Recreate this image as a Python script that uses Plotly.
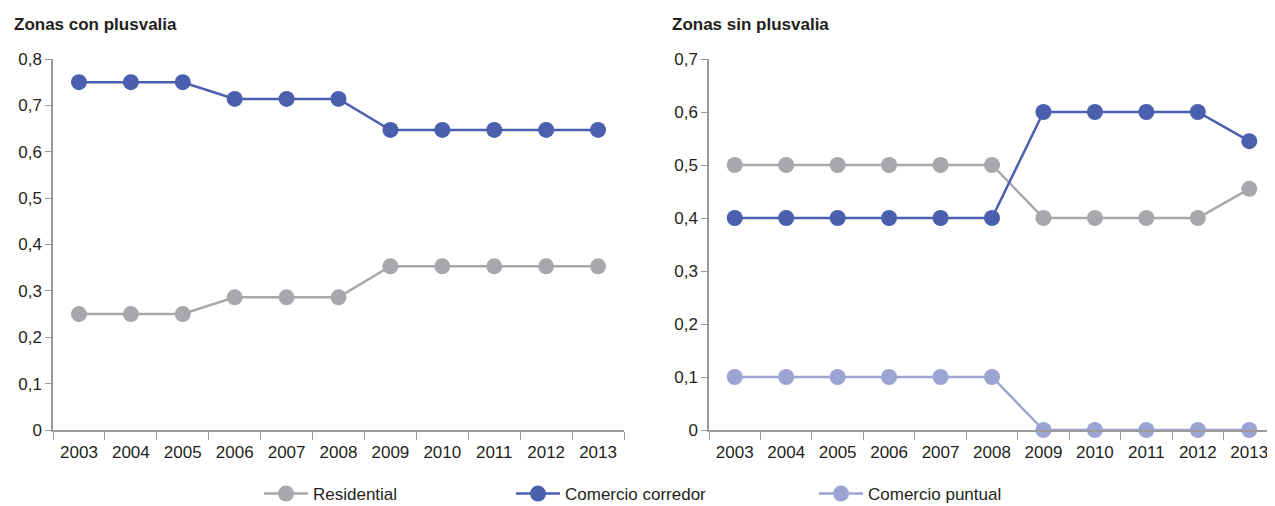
import plotly.graph_objects as go

years = ["2003", "2004", "2005", "2006", "2007", "2008", "2009", "2010", "2011", "2012", "2013"]

# Zonas con plusvalia
con_residential = [0.25, 0.25, 0.25, 0.286, 0.286, 0.286, 0.353, 0.353, 0.353, 0.353, 0.353]
con_corredor = [0.75, 0.75, 0.75, 0.714, 0.714, 0.714, 0.647, 0.647, 0.647, 0.647, 0.647]

# Zonas sin plusvalia
sin_residential = [0.5, 0.5, 0.5, 0.5, 0.5, 0.5, 0.4, 0.4, 0.4, 0.4, 0.455]
sin_corredor = [0.4, 0.4, 0.4, 0.4, 0.4, 0.4, 0.6, 0.6, 0.6, 0.6, 0.545]
sin_puntual = [0.1, 0.1, 0.1, 0.1, 0.1, 0.1, 0, 0, 0, 0, 0]

c_res = "#a7a8ab"
c_cor = "#4a5fae"
c_pun = "#9ca4d4"

FONT = "Liberation Sans, Arial, sans-serif"
TXT = "#231f20"

fig = go.Figure()

def add(x, y, name, color, xa, ya, show, legend):
    fig.add_trace(go.Scatter(
        x=x, y=y, name=name, mode="lines+markers",
        line=dict(color=color, width=2.5),
        marker=dict(color=color, size=16),
        xaxis=xa, yaxis=ya, showlegend=show, legend=legend,
        cliponaxis=False, hoverinfo="skip"))

add(years, con_residential, "Residential", c_res, "x", "y", False, "legend")
add(years, con_corredor, "Comercio corredor", c_cor, "x", "y", False, "legend")
add(years, sin_residential, "Residential", c_res, "x2", "y2", True, "legend")
add(years, sin_corredor, "Comercio corredor", c_cor, "x2", "y2", True, "legend2")
add(years, sin_puntual, "Comercio puntual", c_pun, "x2", "y2", True, "legend3")

# page body has an 8px margin: size figure to fill the rest of the window
OX, OY = 8, 8
W, H = 1275 - OX, 506 - OY
TOP_S, BOT_S = 59, 430          # screen y of plot top / x-axis
T = TOP_S - OY
B = H - (BOT_S - OY)
axis_common = dict(showline=True, linecolor="#9a9a9a", linewidth=1.5, ticks="outside",
                   tickcolor="#9a9a9a", showgrid=False, zeroline=False, automargin=False,
                   tickfont=dict(family=FONT, size=17, color=TXT))

def sx(px):
    return (px - OX) / W

fig.update_layout(
    width=W, height=H,
    margin=dict(l=0, r=0, t=T, b=B, autoexpand=False),
    plot_bgcolor="white", paper_bgcolor="white",
    separators=",.",
    font=dict(family=FONT, color=TXT),
    xaxis=dict(domain=[sx(53), sx(624)], type="category", range=[-0.5, 10.5],
               tickson="boundaries", ticklen=8, tickangle=0, ticklabelstandoff=6,
               anchor="y", **axis_common),
    yaxis=dict(domain=[0, 1], range=[0, 0.8], dtick=0.1, ticklen=6, anchor="x", **axis_common),
    xaxis2=dict(domain=[sx(709), 1.0], type="category", range=[-0.5, 10.5],
                tickson="boundaries", ticklen=8, tickangle=0, ticklabelstandoff=6,
                anchor="y2", **axis_common),
    yaxis2=dict(domain=[0, 1], range=[0, 0.7], dtick=0.1, ticklen=6, anchor="x2", **axis_common),
)

plot_h = H - T - B
def sy(py):
    return (BOT_S - py) / plot_h

for txt, px in [("<b>Zonas con plusvalia</b>", 12), ("<b>Zonas sin plusvalia</b>", 670)]:
    fig.add_annotation(text=txt, x=sx(px), y=sy(25), xref="paper", yref="paper",
                       showarrow=False, xanchor="left", yanchor="middle",
                       font=dict(family=FONT, size=17, color=TXT))

leg_font = dict(family=FONT, size=17, color=TXT)
for key, px in [("legend", 259), ("legend2", 511), ("legend3", 814)]:
    fig.update_layout({key: dict(orientation="h", x=sx(px), y=sy(494), xref="paper", yref="paper",
                                 xanchor="left", yanchor="middle", font=leg_font, itemwidth=44,
                                 bgcolor="rgba(0,0,0,0)")})

fig.write_html("out.html")
